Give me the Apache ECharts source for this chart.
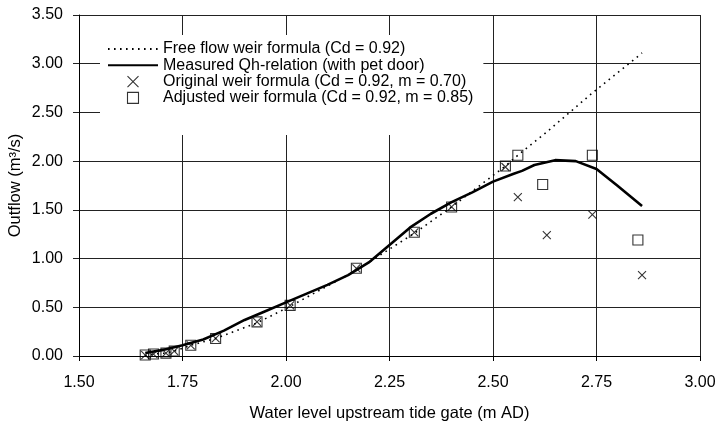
<!DOCTYPE html>
<html>
<head>
<meta charset="utf-8">
<script src="https://cdn.jsdelivr.net/npm/echarts@6/dist/echarts.min.js"></script>
<style>
  html, body { margin: 0; padding: 0; background: #fff; }
  #chart { width: 718px; height: 422px; }
</style>
</head>
<body>
<div id="chart"></div>
<script>
// free flow weir formula (Cd = 0.92)
const freeFlowX = [1.66, 1.68, 1.71, 1.73, 1.77, 1.83, 1.93, 2.01, 2.17, 2.31, 2.40, 2.53, 2.56, 2.63, 2.74, 2.86]
const freeFlowY = [0.00, 0.02, 0.03, 0.05, 0.11, 0.18, 0.34, 0.51, 0.88, 1.26, 1.53, 1.95, 2.06, 2.30, 2.70, 3.11]

// measured Qh-relation
const measuredX = [1.66, 1.70, 1.75, 1.80, 1.85, 1.90, 1.95, 2.00, 2.05, 2.10, 2.15, 2.20, 2.25, 2.30, 2.35, 2.40, 2.45, 2.50, 2.55, 2.57, 2.60, 2.65, 2.70, 2.75, 2.80, 2.86]
const measuredY = [0.03, 0.06, 0.11, 0.17, 0.26, 0.37, 0.46, 0.55, 0.64, 0.73, 0.83, 0.96, 1.14, 1.32, 1.46, 1.58, 1.68, 1.79, 1.87, 1.90, 1.96, 2.01, 2.00, 1.92, 1.75, 1.54]

// original weir formula (Cd = 0.92, m = 0.70)
const originalX = [1.66, 1.68, 1.71, 1.73, 1.77, 1.83, 1.93, 2.01, 2.17, 2.31, 2.40, 2.53, 2.56, 2.63, 2.74, 2.86]
const originalY = [0.01, 0.02, 0.03, 0.05, 0.11, 0.18, 0.35, 0.52, 0.90, 1.27, 1.53, 1.94, 1.63, 1.24, 1.45, 0.83]

// adjusted weir formula (Cd = 0.92, m = 0.85)
const adjustedX = [1.66, 1.68, 1.71, 1.73, 1.77, 1.83, 1.93, 2.01, 2.17, 2.31, 2.40, 2.53, 2.56, 2.62, 2.74, 2.85]
const adjustedY = [0.01, 0.02, 0.03, 0.05, 0.11, 0.18, 0.35, 0.52, 0.90, 1.27, 1.53, 1.95, 2.06, 1.76, 2.06, 1.19]

const seriesNames = [
  'Free flow weir formula (Cd = 0.92)',
  'Measured Qh-relation (with pet door)',
  'Original weir formula (Cd = 0.92, m = 0.70)',
  'Adjusted weir formula (Cd = 0.92, m = 0.85)'
]

const zip = (xs, ys) => xs.map((x, i) => [x, ys[i]])

const font = 'Liberation Sans'
const crossPath = 'path://M0,0L10,10M10,0L0,10'
const squarePath = 'path://M0,0L10,0L10,10L0,10Z'
const hideSymbol = { color: 'transparent', borderColor: 'transparent', borderWidth: 0 }
const openMark = { color: 'transparent', borderColor: '#000', borderWidth: 1.1 }

const chart = echarts.init(document.getElementById('chart'))

const option = {
  animation: false,
  textStyle: { fontFamily: font, color: '#000' },
  grid: { left: 79, right: 18, top: 15, bottom: 66, containLabel: false, outerBoundsMode: 'none' },
  legend: {
    left: 100,
    top: 35,
    orient: 'vertical',
    backgroundColor: '#fff',
    padding: [6, 10, 29, 7],
    itemWidth: 50,
    itemHeight: 11,
    itemGap: 0.3,
    textStyle: { fontFamily: font, fontSize: 16, color: '#000' },
    data: [
      { name: seriesNames[0], itemStyle: hideSymbol },
      { name: seriesNames[1], itemStyle: hideSymbol },
      { name: seriesNames[2], icon: crossPath, itemStyle: openMark },
      { name: seriesNames[3], icon: squarePath, itemStyle: openMark }
    ]
  },
  xAxis: {
    type: 'value',
    min: 1.5,
    max: 3,
    interval: 0.25,
    name: 'Water level upstream tide gate (m AD)',
    nameLocation: 'middle',
    nameGap: 49,
    nameMoveOverlap: false,
    nameTextStyle: { fontFamily: font, fontSize: 16.5, color: '#000' },
    axisLine: { lineStyle: { color: '#000', width: 1 } },
    axisTick: { show: true, length: 5, lineStyle: { color: '#000' } },
    axisLabel: { fontSize: 16, color: '#000', margin: 19, formatter: v => v.toFixed(2) },
    splitLine: { show: true, lineStyle: { color: '#222', width: 1 } }
  },
  yAxis: {
    type: 'value',
    min: 0,
    max: 3.5,
    interval: 0.5,
    name: 'Outflow (m³/s)',
    nameLocation: 'middle',
    nameGap: 55,
    nameMoveOverlap: false,
    nameTextStyle: { fontFamily: font, fontSize: 16.5, color: '#000' },
    axisLine: { show: true, lineStyle: { color: '#000', width: 1 } },
    axisTick: { show: true, length: 6, lineStyle: { color: '#222' } },
    axisLabel: { fontSize: 16, color: '#000', margin: 16, formatter: v => v.toFixed(2) },
    splitLine: { show: true, lineStyle: { color: '#222', width: 1 } }
  },
  series: [
    {
      name: seriesNames[0],
      type: 'line',
      data: zip(freeFlowX, freeFlowY),
      symbol: 'none',
      lineStyle: { color: '#000', width: 1.6, type: [1.6, 4.4] },
      itemStyle: { color: '#000' },
      z: 2
    },
    {
      name: seriesNames[1],
      type: 'line',
      data: zip(measuredX, measuredY),
      symbol: 'none',
      lineStyle: { color: '#000', width: 2.6 },
      itemStyle: { color: '#000' },
      z: 2
    },
    {
      name: seriesNames[2],
      type: 'scatter',
      data: zip(originalX, originalY),
      symbol: crossPath,
      symbolSize: 8,
      itemStyle: openMark,
      z: 3
    },
    {
      name: seriesNames[3],
      type: 'scatter',
      data: zip(adjustedX, adjustedY),
      symbol: squarePath,
      symbolSize: 10,
      itemStyle: openMark,
      z: 3
    }
  ]
}

chart.setOption(option)
window.addEventListener('resize', () => chart.resize())
</script>
</body>
</html>
